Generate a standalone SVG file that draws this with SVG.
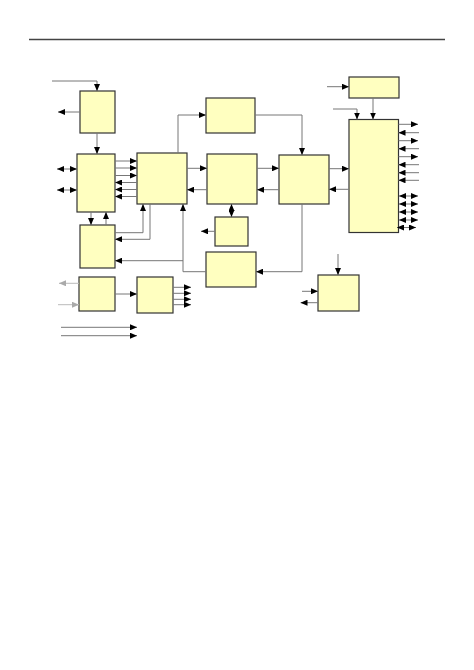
<svg xmlns="http://www.w3.org/2000/svg" width="474" height="670" viewBox="0 0 474 670">
<defs>
<marker id="ah" markerUnits="userSpaceOnUse" markerWidth="7" markerHeight="6" refX="7" refY="3" orient="auto-start-reverse"><path d="M0,0 L7,3 L0,6 z" fill="#000"/></marker>
<marker id="ahg" markerUnits="userSpaceOnUse" markerWidth="7" markerHeight="6" refX="7" refY="3" orient="auto-start-reverse"><path d="M0,0 L7,3 L0,6 z" fill="#aaa"/></marker>
</defs>
<style>
.box{fill:#FFFFC0;stroke:#333;stroke-width:1.2}
.c{fill:none;stroke:#777;stroke-width:1}
.e{marker-end:url(#ah)}
.b{marker-start:url(#ah);marker-end:url(#ah)}
.g{fill:none;stroke:#bbb;stroke-width:1;marker-end:url(#ahg)}
</style>
<rect width="474" height="670" fill="#fff"/>
<line x1="29" y1="39.5" x2="445" y2="39.5" stroke="#444" stroke-width="1.3"/>
<g id="nodes">
<g id="A"><rect class="box" x="80" y="91" width="35" height="42"/></g>
<g id="B"><rect class="box" x="77" y="154" width="38" height="58"/></g>
<g id="C"><rect class="box" x="137" y="153" width="50" height="51"/></g>
<g id="D"><rect class="box" x="80" y="225" width="35" height="43"/></g>
<g id="E"><rect class="box" x="79" y="277" width="36" height="34"/></g>
<g id="G"><rect class="box" x="137" y="277" width="36" height="36"/></g>
<g id="H"><rect class="box" x="206" y="98" width="49" height="35"/></g>
<g id="I"><rect class="box" x="207" y="154" width="50" height="50"/></g>
<g id="J"><rect class="box" x="279" y="155" width="50" height="49"/></g>
<g id="K"><rect class="box" x="215" y="217" width="33" height="29"/></g>
<g id="F"><rect class="box" x="206" y="252" width="50" height="35"/></g>
<g id="L"><rect class="box" x="349" y="77" width="50" height="21"/></g>
<g id="M"><rect class="box" x="349" y="119.5" width="49.5" height="113"/></g>
<g id="N"><rect class="box" x="318" y="275" width="41" height="36"/></g>
</g>
<g id="connectors">
<polyline class="c e" points="52,81 97,81 97,91"/>
<line class="c e" x1="80" y1="112" x2="58" y2="112"/>
<line class="c e" x1="97" y1="133" x2="97" y2="154"/>
<line class="c b" x1="57" y1="169" x2="77" y2="169"/>
<line class="c b" x1="57" y1="190" x2="77" y2="190"/>
<line class="c e" x1="115" y1="161" x2="137" y2="161"/>
<line class="c e" x1="115" y1="168" x2="137" y2="168"/>
<line class="c e" x1="115" y1="175.5" x2="137" y2="175.5"/>
<line class="c e" x1="137" y1="182.5" x2="115" y2="182.5"/>
<line class="c e" x1="137" y1="189.5" x2="115" y2="189.5"/>
<line class="c e" x1="137" y1="196.5" x2="115" y2="196.5"/>
<line class="c e" x1="91" y1="212" x2="91" y2="225"/>
<line class="c e" x1="106" y1="225" x2="106" y2="212"/>
<polyline class="c e" points="115,232.7 143,232.7 143,204"/>
<polyline class="c e" points="150,204 150,239.3 115,239.3"/>
<polyline class="c e" points="206,271.7 183,271.7 183,204"/>
<line class="c e" x1="183" y1="260.7" x2="115" y2="260.7"/>
<polyline class="c e" points="178,153 178,115 206,115"/>
<polyline class="c e" points="255,115 302,115 302,155"/>
<line class="c e" x1="187" y1="168.3" x2="207" y2="168.3"/>
<line class="c e" x1="207" y1="189.7" x2="187" y2="189.7"/>
<line class="c e" x1="257" y1="168.3" x2="279" y2="168.3"/>
<line class="c e" x1="279" y1="189.7" x2="257" y2="189.7"/>
<line class="c b" x1="231.5" y1="204" x2="231.5" y2="217"/>
<line class="c e" x1="215" y1="231.3" x2="201" y2="231.3"/>
<polyline class="c e" points="302,204 302,271.7 256,271.7"/>
<line class="c e" x1="327" y1="86.7" x2="349" y2="86.7"/>
<line class="c e" x1="373" y1="98" x2="373" y2="119.5"/>
<polyline class="c e" points="333,109 357,109 357,119.5"/>
<line class="c e" x1="329" y1="168.7" x2="349" y2="168.7"/>
<line class="c e" x1="349" y1="189.3" x2="329" y2="189.3"/>
<line class="c e" x1="398.5" y1="124.3" x2="418" y2="124.3"/>
<line class="c e" x1="419" y1="132.7" x2="398.5" y2="132.7"/>
<line class="c e" x1="398.5" y1="140.7" x2="418" y2="140.7"/>
<line class="c e" x1="419" y1="148.7" x2="398.5" y2="148.7"/>
<line class="c e" x1="398.5" y1="156.7" x2="418" y2="156.7"/>
<line class="c e" x1="419" y1="164.7" x2="398.5" y2="164.7"/>
<line class="c e" x1="419" y1="172.7" x2="398.5" y2="172.7"/>
<line class="c e" x1="419" y1="180.3" x2="398.5" y2="180.3"/>
<line class="c b" x1="399" y1="196" x2="418" y2="196"/>
<line class="c b" x1="399" y1="204" x2="418" y2="204"/>
<line class="c b" x1="399" y1="212" x2="418" y2="212"/>
<line class="c b" x1="399" y1="220" x2="418" y2="220"/>
<line class="c b" x1="397" y1="227.5" x2="416" y2="227.5"/>
<line class="g" x1="79" y1="283.3" x2="59" y2="283.3"/>
<line class="g" x1="58" y1="304.7" x2="79" y2="304.7"/>
<line class="c e" x1="115" y1="294" x2="137" y2="294"/>
<line class="c e" x1="173" y1="287.3" x2="191" y2="287.3"/>
<line class="c e" x1="173" y1="293.3" x2="191" y2="293.3"/>
<line class="c e" x1="173" y1="299.3" x2="191" y2="299.3"/>
<line class="c e" x1="173" y1="304.7" x2="191" y2="304.7"/>
<line class="c e" x1="61" y1="327.3" x2="137" y2="327.3"/>
<line class="c e" x1="61" y1="335.7" x2="137" y2="335.7"/>
<line class="c e" x1="338" y1="254" x2="338" y2="275"/>
<line class="c e" x1="302" y1="291.3" x2="318" y2="291.3"/>
<line class="c e" x1="318" y1="302.7" x2="300.5" y2="302.7"/>
</g>
</svg>
